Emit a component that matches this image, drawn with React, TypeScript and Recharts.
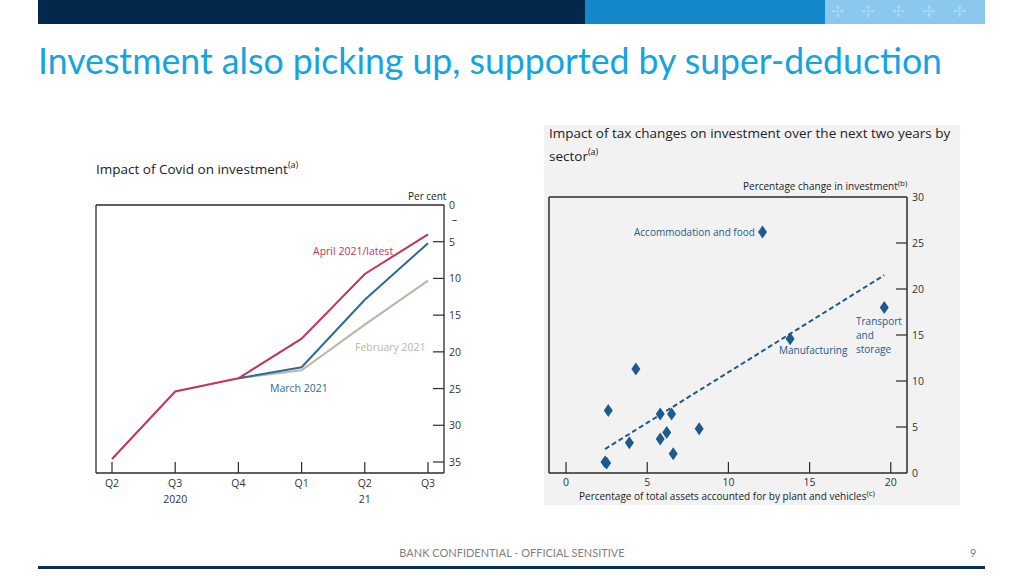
import React from "react";
import {
  LineChart,
  Line,
  XAxis,
  YAxis,
  ScatterChart,
  Scatter,
  ReferenceLine,
} from "recharts";

// Left chart: impact of Covid on investment (per cent, negative)
const quarters = ["Q2", "Q3", "Q4", "Q1", "Q2", "Q3"];
const yearLabels = ["", "2020", "", "", "21", ""];
const aprilLatest = [-34.6, -25.4, -23.6, -18.2, -9.4, -4.0];
const march2021 = [null, null, -23.6, -22.1, -12.9, -5.2];
const february2021 = [null, null, -23.6, -22.5, -16.3, -10.3];
const covidTicks = [0, -5, -10, -15, -20, -25, -30, -35];

// Right chart: impact of tax changes by sector
const plantShare = [12.1, 19.6, 13.8, 4.3, 2.6, 5.8, 6.5, 8.2, 6.2, 5.8, 3.9, 6.6, 2.4, 2.5];
const investChange = [26.2, 18.0, 14.6, 11.3, 6.8, 6.4, 6.4, 4.8, 4.4, 3.7, 3.3, 2.1, 1.2, 1.1];
const trendX = [2.4, 19.6];
const trendY = [2.6, 21.5];
const taxXTicks = [0, 5, 10, 15, 20];
const taxYTicks = [0, 5, 10, 15, 20, 25, 30];

const covidData = quarters.map((q, i) => ({
  key: i,
  quarter: q,
  year: yearLabels[i],
  april: aprilLatest[i],
  march: march2021[i],
  february: february2021[i],
}));

const sectorData = plantShare.map((x, i) => ({ x, y: investChange[i] }));

const RED = "#c2335d";
const BLUE = "#2d6a98";
const BEIGE = "#bdb5a6";
const DIAMOND = "#1d5a8e";
const AXIS = "#2b2b2b";
const TXT = "#333";
const chartFont = "'Open Sans', 'Noto Sans', sans-serif";

// tick drawn inside the plot on the right edge, label outside
const RightTick = (props: any) => {
  const { x, y, payload, edge, fmt } = props;
  const v = payload.value;
  return (
    <g>
      {!edge.includes(v) && (
        <line x1={x - 11} x2={x} y1={y} y2={y} stroke={AXIS} strokeWidth={1.2} />
      )}
      <text x={x + 5} y={y} dy={4} fontSize={10.5} fill={TXT} fontFamily={chartFont}>
        {fmt ? fmt(v) : v}
      </text>
    </g>
  );
};

const LeftTick = (props: any) => {
  const { x, y, payload, edge } = props;
  if (edge.includes(payload.value)) return null;
  return <line x1={x} x2={x + 11} y1={y} y2={y} stroke={AXIS} strokeWidth={1.2} />;
};

const QuarterTick = (props: any) => {
  const { x, y, index } = props;
  const d = covidData[index];
  return (
    <g>
      <line x1={x} x2={x} y1={y} y2={y - 11} stroke={AXIS} strokeWidth={1.2} />
      <text x={x} y={y + 14} textAnchor="middle" fontSize={10.5} fill={TXT} fontFamily={chartFont}>
        {d ? d.quarter : ""}
      </text>
      <text x={x} y={y + 30} textAnchor="middle" fontSize={10.5} fill={TXT} fontFamily={chartFont}>
        {d ? d.year : ""}
      </text>
    </g>
  );
};

const NumberXTick = (props: any) => {
  const { x, y, payload } = props;
  return (
    <g>
      <line x1={x} x2={x} y1={y} y2={y - 11} stroke={AXIS} strokeWidth={1.2} />
      <text x={x} y={y + 13} textAnchor="middle" fontSize={10.5} fill={TXT} fontFamily={chartFont}>
        {payload.value}
      </text>
    </g>
  );
};

const Diamond = (props: any) => {
  const { cx, cy } = props;
  return (
    <polygon
      points={`${cx},${cy - 6.5} ${cx + 4.5},${cy} ${cx},${cy + 6.5} ${cx - 4.5},${cy}`}
      fill={DIAMOND}
    />
  );
};

const abs = (v: number) => String(Math.abs(v));

function CovidChart() {
  return (
    <div style={{ position: "absolute", left: 56, top: 160, width: 430, height: 360 }}>
      <LineChart
        width={430}
        height={360}
        data={covidData}
        margin={{ top: 44, left: 39, right: 12, bottom: 17 }}
      >
        <XAxis
          dataKey="key"
          height={30}
          interval={0}
          padding={{ left: 16, right: 16 }}
          tickSize={0}
          tickMargin={0}
          tickLine={false}
          axisLine={{ stroke: AXIS, strokeWidth: 1.3 }}
          tick={<QuarterTick />}
        />
        <XAxis
          xAxisId="top"
          dataKey="key"
          orientation="top"
          height={1}
          tick={false}
          tickLine={false}
          axisLine={{ stroke: AXIS, strokeWidth: 1.3 }}
        />
        <YAxis
          orientation="right"
          width={30}
          domain={[-36.5, 0]}
          ticks={covidTicks}
          interval={0}
          tickSize={0}
          tickMargin={0}
          tickLine={false}
          axisLine={{ stroke: AXIS, strokeWidth: 1.3 }}
          tick={<RightTick edge={[0]} fmt={abs} />}
        />
        <YAxis
          yAxisId="left"
          orientation="left"
          width={1}
          domain={[-36.5, 0]}
          ticks={covidTicks}
          interval={0}
          tickSize={0}
          tickMargin={0}
          tickLine={false}
          axisLine={{ stroke: AXIS, strokeWidth: 1.3 }}
          tick={<LeftTick edge={[0]} />}
        />
        <Line dataKey="february" stroke={BEIGE} strokeWidth={2} dot={false} isAnimationActive={false} />
        <Line dataKey="march" stroke={BLUE} strokeWidth={2} dot={false} isAnimationActive={false} />
        <Line dataKey="april" stroke={RED} strokeWidth={2} dot={false} isAnimationActive={false} />
      </LineChart>
    </div>
  );
}

function SectorChart() {
  return (
    <div
      style={{
        position: "absolute",
        left: 544,
        top: 125,
        width: 416,
        height: 380,
        background: "#f2f2f2",
      }}
    >
      <ScatterChart width={416} height={380} margin={{ top: 71, left: 4, right: 23, bottom: 2 }}>
        <XAxis
          type="number"
          dataKey="x"
          domain={[-1.05, 21]}
          ticks={taxXTicks}
          interval={0}
          height={30}
          tickSize={0}
          tickMargin={0}
          tickLine={false}
          axisLine={{ stroke: AXIS, strokeWidth: 1.5 }}
          tick={<NumberXTick />}
        />
        <XAxis
          xAxisId="top"
          type="number"
          orientation="top"
          domain={[-1.05, 21]}
          height={1}
          tick={false}
          tickLine={false}
          axisLine={{ stroke: AXIS, strokeWidth: 1.5 }}
        />
        <YAxis
          type="number"
          dataKey="y"
          orientation="right"
          width={30}
          domain={[0, 30]}
          ticks={taxYTicks}
          interval={0}
          tickSize={0}
          tickMargin={0}
          tickLine={false}
          axisLine={{ stroke: AXIS, strokeWidth: 1.5 }}
          tick={<RightTick edge={[0, 30]} />}
        />
        <YAxis
          yAxisId="left"
          type="number"
          orientation="left"
          width={1}
          domain={[0, 30]}
          ticks={taxYTicks}
          interval={0}
          tickSize={0}
          tickMargin={0}
          tickLine={false}
          axisLine={{ stroke: AXIS, strokeWidth: 1.5 }}
          tick={<LeftTick edge={[0, 30]} />}
        />
        <ReferenceLine
          segment={[
            { x: trendX[0], y: trendY[0] },
            { x: trendX[1], y: trendY[1] },
          ]}
          stroke={DIAMOND}
          strokeWidth={2}
          strokeDasharray="5 3"
        />
        <Scatter data={sectorData} shape={<Diamond />} isAnimationActive={false} />
      </ScatterChart>
    </div>
  );
}

const label = (left: number, top: number, color: string, size = 10.5): React.CSSProperties => ({
  position: "absolute",
  left,
  top,
  color,
  fontSize: size,
  fontFamily: chartFont,
  whiteSpace: "nowrap",
  lineHeight: 1,
});

export default function App() {
  return (
    <div
      style={{
        position: "absolute",
        left: 0,
        top: 0,
        width: 1024,
        height: 576,
        background: "#fff",
        overflow: "hidden",
      }}
    >
      {/* header bars */}
      <div style={{ position: "absolute", left: 38, top: 0, width: 547, height: 24, background: "#04284b" }} />
      <div style={{ position: "absolute", left: 585, top: 0, width: 240, height: 24, background: "#1588cc" }} />
      <div
        style={{
          position: "absolute",
          left: 825,
          top: 0,
          width: 160,
          height: 24,
          background: "#8cc8ee",
          color: "#aad8f4",
          fontSize: 16,
          lineHeight: "24px",
          fontFamily: "DejaVu Sans",
          letterSpacing: 17,
          paddingLeft: 6,
          boxSizing: "border-box",
        }}
      >
        ✢✢✢✢✢
      </div>

      <svg style={{ position: "absolute", left: 0, top: 0 }} width={1024} height={100}>
        <text
          x={38}
          y={74}
          fontSize={36}
          fill="#13a5e1"
          fontFamily="Lato, 'Open Sans', sans-serif"
          textLength={904}
          lengthAdjust="spacingAndGlyphs"
        >
          Investment also picking up, supported by super-deduction
        </text>
      </svg>

      {/* left chart */}
      <div style={label(96, 160, "#222", 13.5)}>
        Impact of Covid on investment<sup style={{ fontSize: 9 }}>(a)</sup>
      </div>
      <div style={label(408, 191, "#222", 10)}>Per cent</div>
      <div style={label(452, 214, "#222", 10)}>–</div>
      <CovidChart />
      <div style={label(313, 246, RED)}>April 2021/latest</div>
      <div style={label(355, 342, BEIGE)}>February 2021</div>
      <div style={label(270, 383, BLUE)}>March 2021</div>

      {/* right chart */}
      <SectorChart />
      <div style={label(549, 127, "#222", 13.5)}>
        Impact of tax changes on investment over the next two years by
      </div>
      <div style={label(549, 147, "#222", 13.5)}>
        sector<sup style={{ fontSize: 9 }}>(a)</sup>
      </div>
      <div style={label(743, 179, "#222", 10)}>
        Percentage change in investment<sup style={{ fontSize: 8 }}>(b)</sup>
      </div>
      <div style={label(579, 489, "#222", 10)}>
        Percentage of total assets accounted for by plant and vehicles<sup style={{ fontSize: 8 }}>(c)</sup>
      </div>
      <div style={label(634, 227, DIAMOND, 10)}>Accommodation and food</div>
      <div style={label(779, 345, DIAMOND, 10)}>Manufacturing</div>
      <div style={{ ...label(856, 314, DIAMOND, 10), lineHeight: "14px" }}>
        Transport
        <br />
        and
        <br />
        storage
      </div>

      {/* footer */}
      <div
        style={{
          position: "absolute",
          left: 0,
          width: 1024,
          top: 546,
          textAlign: "center",
          fontSize: 11,
          color: "#7f7f7f",
          fontFamily: "Lato, 'Open Sans', sans-serif",
        }}
      >
        BANK CONFIDENTIAL - OFFICIAL SENSITIVE
      </div>
      <div style={{ position: "absolute", left: 970, top: 546, fontSize: 11, color: "#7f7f7f", fontFamily: "Lato, sans-serif" }}>
        9
      </div>
      <div style={{ position: "absolute", left: 38, top: 566, width: 947, height: 3, background: "#0b2f52" }} />
    </div>
  );
}
